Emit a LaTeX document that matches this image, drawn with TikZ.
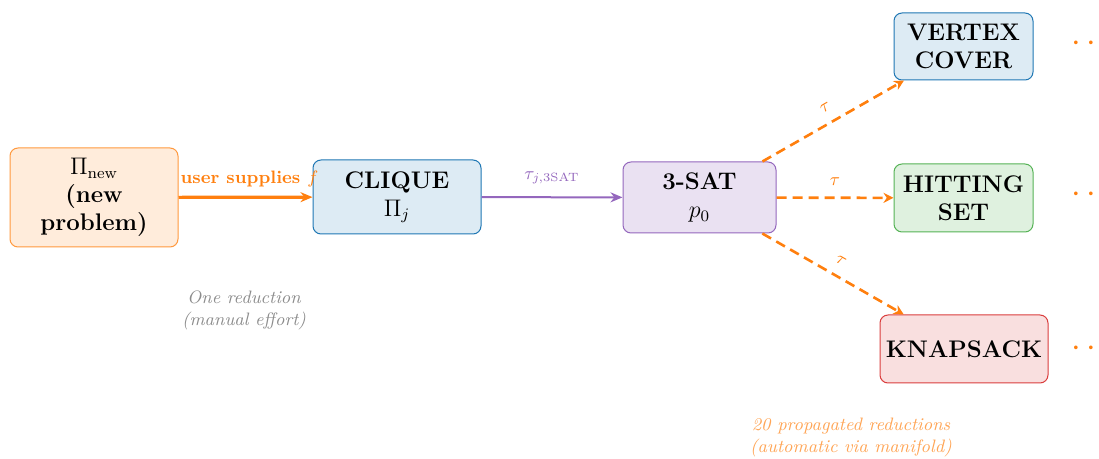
\documentclass[tikz,border=0pt]{standalone}
\usepackage{amsmath}
\usetikzlibrary{arrows.meta}
\definecolor{cOrange}{HTML}{FF7F0E}
\definecolor{cBlue}{HTML}{1F77B4}
\definecolor{cPurple}{HTML}{9467BD}
\definecolor{cGreen}{HTML}{2CA02C}
\definecolor{cRed}{HTML}{D62728}
\tikzset{
  box/.style={draw, rounded corners=4pt, line width=0.5pt, align=center, font=\large\bfseries, inner sep=2pt},
  obox/.style={box, draw=cOrange!80, fill=cOrange!15},
  bbox/.style={box, draw=cBlue, fill=cBlue!15},
  pbox/.style={box, draw=cPurple, fill=cPurple!20},
  gbox/.style={box, draw=cGreen!80, fill=cGreen!15},
  rbox/.style={box, draw=cRed!90, fill=cRed!15},
  prop/.style={draw=cOrange, line width=1.3pt, dash pattern=on 5pt off 3pt, -{Stealth[length=5pt,width=5pt]}},
  lab/.style={font=\small, text=cOrange},
  more/.style={text=cOrange, font=\LARGE, anchor=west},
}
\begin{document}
\begin{tikzpicture}[x=0.5pt, y=-0.5pt]
\useasboundingbox (0,0) rectangle (1099,459);
\node[obox, minimum width=84pt, minimum height=49.5pt] (new) at (94,197.5)
  {\mdseries$\Pi_{\text{new}}$\\(new\\problem)};
\node[bbox, minimum width=84pt, minimum height=37pt] (clique) at (397,197)
  {CLIQUE\\\mdseries$\Pi_j$};
\node[pbox, minimum width=76.5pt, minimum height=35.5pt] (sat) at (699.5,197.5)
  {3-SAT\\\mdseries$p_0$};
\node[bbox, minimum width=69.5pt, minimum height=33.5pt] (vc) at (963.5,46.5)
  {VERTEX\\COVER};
\node[gbox, minimum width=69.5pt, minimum height=34pt] (hs) at (963.5,198)
  {HITTING\\SET};
\node[rbox, minimum width=84pt, minimum height=34pt] (kn) at (964,349)
  {KNAPSACK};

\draw[cOrange, line width=1.6pt, -{Stealth[length=6pt,width=5pt]}] (new) -- node[above=1pt, font=\small\bfseries, text=cOrange, xshift=2pt] {user supplies $f$} (clique);
\draw[cPurple, line width=1pt, -{Stealth[length=6pt,width=5pt]}] (clique) -- node[above=3pt, font=\small, text=cPurple] {$\tau_{j,\mathrm{3SAT}}$} (sat);

\draw[prop] (sat) -- node[lab, sloped, above=2pt] {$\tau$} (vc);
\draw[prop] (sat) -- node[lab, above=2pt] {$\tau$} (hs);
\draw[prop] (sat) -- node[lab, sloped, above=2pt] {$\tau$} (kn);

\node[more] (d1) at (1064,44) {$\cdots$};
\node[more] (d2) at (1064,195) {$\cdots$};
\node[more] (d3) at (1064,349) {$\cdots$};

\node[align=center, font=\small\itshape, text=black!45] (note1) at (244,310) {One reduction\\(manual effort)};
\node[align=center, font=\small\itshape, text=cOrange!70] (note2) at (851,437) {20 propagated reductions\\(automatic via manifold)};
\end{tikzpicture}
\end{document}
